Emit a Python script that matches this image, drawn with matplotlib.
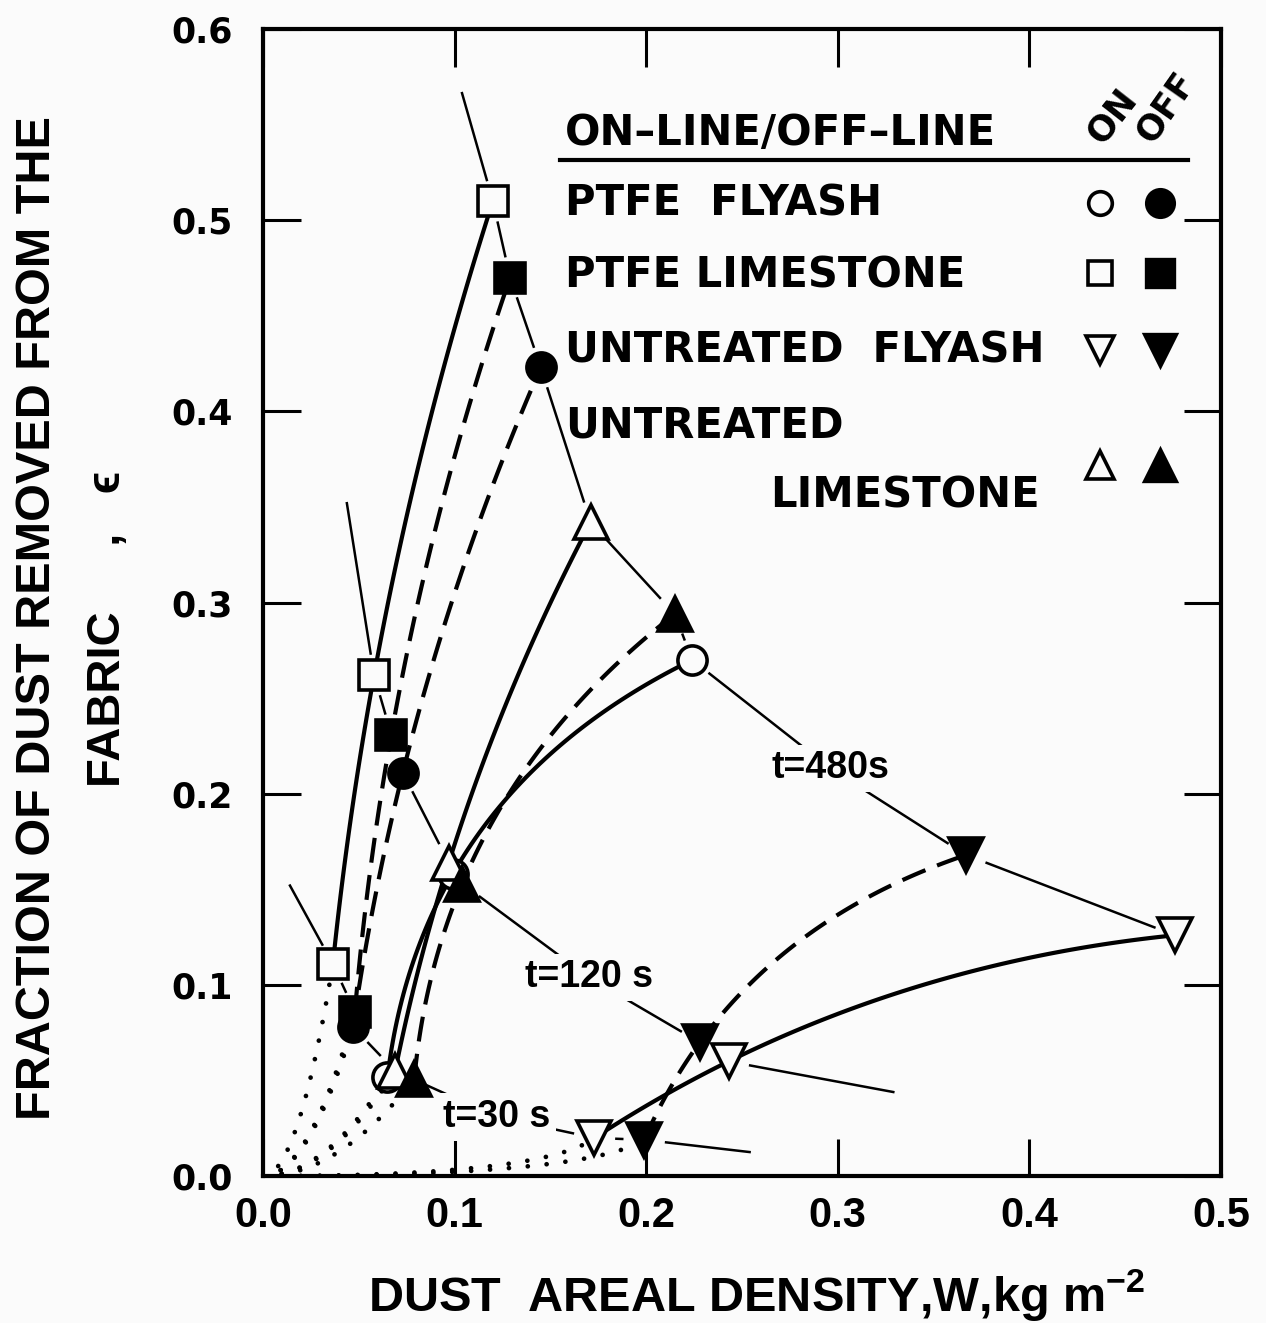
import numpy as np
import matplotlib
matplotlib.use('Agg')
import matplotlib.pyplot as plt

# filtration time of each point along a curve (s)
times = [30, 120, 480]

# dust areal density W (kg m^-2) / fraction of dust removed eps
w_ptfe_flyash_on = [0.065, 0.099, 0.224]
eps_ptfe_flyash_on = [0.052, 0.158, 0.270]
w_ptfe_flyash_off = [0.047, 0.073, 0.145]
eps_ptfe_flyash_off = [0.078, 0.211, 0.423]

w_ptfe_lime_on = [0.0365, 0.058, 0.120]
eps_ptfe_lime_on = [0.111, 0.262, 0.510]
w_ptfe_lime_off = [0.048, 0.067, 0.129]
eps_ptfe_lime_off = [0.086, 0.231, 0.470]

w_untr_flyash_on = [0.173, 0.243, 0.476]
eps_untr_flyash_on = [0.020, 0.060, 0.126]
w_untr_flyash_off = [0.199, 0.228, 0.367]
eps_untr_flyash_off = [0.019, 0.070, 0.168]

w_untr_lime_on = [0.069, 0.097, 0.171]
eps_untr_lime_on = [0.055, 0.164, 0.342]
w_untr_lime_off = [0.079, 0.104, 0.215]
eps_untr_lime_off = [0.051, 0.153, 0.294]

legend_names = ['PTFE  FLYASH', 'PTFE LIMESTONE', 'UNTREATED  FLYASH', 'UNTREATED']
xticks = [0.0, 0.1, 0.2, 0.3, 0.4, 0.5]
yticks = [0.0, 0.1, 0.2, 0.3, 0.4, 0.5, 0.6]

series = {
    ('PTFE FLYASH', 'on'): (w_ptfe_flyash_on, eps_ptfe_flyash_on),
    ('PTFE FLYASH', 'off'): (w_ptfe_flyash_off, eps_ptfe_flyash_off),
    ('PTFE LIMESTONE', 'on'): (w_ptfe_lime_on, eps_ptfe_lime_on),
    ('PTFE LIMESTONE', 'off'): (w_ptfe_lime_off, eps_ptfe_lime_off),
    ('UNTREATED FLYASH', 'on'): (w_untr_flyash_on, eps_untr_flyash_on),
    ('UNTREATED FLYASH', 'off'): (w_untr_flyash_off, eps_untr_flyash_off),
    ('UNTREATED LIMESTONE', 'on'): (w_untr_lime_on, eps_untr_lime_on),
    ('UNTREATED LIMESTONE', 'off'): (w_untr_lime_off, eps_untr_lime_off),
}
marker_of = {'PTFE FLYASH': 'o', 'PTFE LIMESTONE': 's',
             'UNTREATED FLYASH': 'v', 'UNTREATED LIMESTONE': '^'}
size_of = {'o': 21, 's': 21, 'v': 24, '^': 24}

BG = '#fbfbfb'
BOLD = ['Liberation Sans', 'DejaVu Sans']
NARROW = ['Liberation Sans Narrow', 'Liberation Sans', 'DejaVu Sans']
plt.rcParams['mathtext.fontset'] = 'custom'
plt.rcParams['mathtext.rm'] = 'Liberation Sans:bold'
plt.rcParams['mathtext.bf'] = 'Liberation Sans:bold'

fig = plt.figure(figsize=(12.66, 13.23), dpi=100, facecolor=BG)
ax = fig.add_axes([0.2077, 0.111, 0.7567, 0.867], facecolor=BG)
ax.set_xlim(0, 0.5)
ax.set_ylim(0, 0.6)


def smooth3(xs, ys, n=80):
    # quadratic through the three measured points, chord-length parameter
    xs, ys = np.asarray(xs), np.asarray(ys)
    s = np.concatenate([[0], np.cumsum(np.hypot(np.diff(xs), np.diff(ys)))])
    t = np.linspace(0, s[-1], n)
    return np.polyval(np.polyfit(s, xs, 2), t), np.polyval(np.polyfit(s, ys, 2), t)


def lead_in(x1, y1, c, n=50):
    # dotted start from the origin, bezier hugging the W axis
    t = np.linspace(0, 1, n)
    return 2 * (1 - t) * t * c * x1 + t ** 2 * x1, t ** 2 * y1


for (name, mode), (w, eps) in series.items():
    c = 0.85 if name == 'UNTREATED FLYASH' else 0.5
    lx, ly = lead_in(w[0], eps[0], c)
    ax.plot(lx, ly, color='k', lw=3.4, linestyle=(0, (0.01, 4.0)),
            dash_capstyle='round', zorder=2)
    cx, cy = smooth3(w, eps)
    if mode == 'on':
        ax.plot(cx, cy, color='k', lw=3.0, solid_capstyle='butt', zorder=3)
    else:
        ax.plot(cx, cy, color='k', lw=3.0, linestyle=(0, (6.0, 3.0)), zorder=3)

# isochrones (t = 30, 120, 480 s): label positions and leader ends
iso_order = {
    0: [('PTFE LIMESTONE', 'on'), ('PTFE LIMESTONE', 'off'), ('PTFE FLYASH', 'off'),
        ('UNTREATED LIMESTONE', 'on'), 'label', ('UNTREATED FLYASH', 'on'),
        ('UNTREATED FLYASH', 'off')],
    1: [('PTFE LIMESTONE', 'on'), ('PTFE LIMESTONE', 'off'), ('PTFE FLYASH', 'off'),
        ('UNTREATED LIMESTONE', 'on'), ('UNTREATED LIMESTONE', 'off'), 'label',
        ('UNTREATED FLYASH', 'off'), ('UNTREATED FLYASH', 'on')],
    2: [('PTFE LIMESTONE', 'on'), ('PTFE LIMESTONE', 'off'), ('PTFE FLYASH', 'off'),
        ('UNTREATED LIMESTONE', 'on'), ('UNTREATED LIMESTONE', 'off'),
        ('PTFE FLYASH', 'on'), 'label', ('UNTREATED FLYASH', 'off'),
        ('UNTREATED FLYASH', 'on')],
}
iso_label_pos = {0: (0.122, 0.031), 1: (0.170, 0.104), 2: (0.296, 0.2134)}
iso_label_txt = {0: 't=30 s', 1: 't=120 s', 2: 't=480s'}
iso_start = {0: (0.0141, 0.152), 1: (0.0438, 0.352), 2: (0.1039, 0.5665)}
iso_end = {0: (0.254, 0.0126), 1: (0.329, 0.044), 2: None}

inv = ax.transData.inverted()


def seg(p, q, rp, rq):
    P, Q = ax.transData.transform([p, q])
    v = Q - P
    L = np.hypot(*v)
    if L <= rp + rq + 4:
        return None
    u = v / L
    return inv.transform([P + u * rp, Q - u * rq])


for k in range(3):
    pts, rad = [iso_start[k]], [0]
    for key in iso_order[k]:
        if key == 'label':
            pts.append(iso_label_pos[k])
            rad.append(0)
        else:
            w, eps = series[key]
            pts.append((w[k], eps[k]))
            rad.append(22)
    if iso_end[k] is not None:
        pts.append(iso_end[k])
        rad.append(0)
    for i in range(len(pts) - 1):
        s = seg(pts[i], pts[i + 1], rad[i], rad[i + 1])
        if s is not None:
            ax.plot(s[:, 0], s[:, 1], color='k', lw=1.8, zorder=2)
    ax.text(*iso_label_pos[k], iso_label_txt[k], ha='center', va='center',
            fontsize=27, weight='bold', family=BOLD, zorder=4,
            bbox=dict(facecolor=BG, edgecolor='none', pad=4))

# markers on top
for (name, mode), (w, eps) in series.items():
    m = marker_of[name]
    ax.plot(w, eps, linestyle='none', marker=m, ms=size_of[m],
            mfc='k' if mode == 'off' else BG, mec='k', mew=2.6, zorder=5)

# legend drawn as in the original figure
tr = ax.transAxes
ax.text(0.315, 0.899, 'ON\u2013LINE/OFF\u2013LINE', transform=tr, fontsize=30,
        weight='bold', family='DejaVu Sans', ha='left', va='baseline')
ax.plot([0.31, 0.9656], [0.886, 0.886], transform=tr, color='k', lw=3,
        clip_on=False)
ax.text(0.886, 0.924, 'ON', transform=tr, rotation=52, fontsize=25,
        weight='bold', family='DejaVu Sans', ha='center', va='center')
ax.text(0.9425, 0.932, 'OFF', transform=tr, rotation=55, fontsize=25,
        weight='bold', family='DejaVu Sans', ha='center', va='center')
row_y = [0.848, 0.787, 0.720, 0.620]
text_y = [0.848, 0.7855, 0.720, 0.6547]
for name, label, ry, ty in zip(marker_of, legend_names, row_y, text_y):
    ax.text(0.315, ty, label, transform=tr, fontsize=30, weight='bold',
            family='DejaVu Sans', ha='left', va='center')
    m = marker_of[name]
    ax.plot([0.874], [ry], transform=tr, marker=m, ms=size_of[m] - 4,
            mfc=BG, mec='k', mew=2.6, clip_on=False)
    ax.plot([0.936], [ry], transform=tr, marker=m, ms=size_of[m] - 1,
            mfc='k', mec='k', mew=2.4, clip_on=False)
ax.text(0.529, 0.5937, 'LIMESTONE', transform=tr, fontsize=30, weight='bold',
        family='DejaVu Sans', ha='left', va='center')

# axes frame and ticks
for sp in ax.spines.values():
    sp.set_linewidth(3)
ax.tick_params(direction='in', length=27, width=2.2, top=True, right=True)
ax.tick_params(axis='y', pad=22)
ax.tick_params(axis='x', pad=14)
ax.set_xticks(xticks, [f'{v:.1f}' for v in xticks], fontsize=30,
              weight='bold', family=NARROW)
ax.set_yticks(yticks, [f'{v:.1f}' for v in yticks], fontsize=25,
              weight='bold', family='DejaVu Sans')

ax.set_xlabel(r'DUST  AREAL DENSITY,W,kg m$^{-2}$', fontsize=35,
              weight='bold', family=BOLD)
ax.xaxis.set_label_coords(0.5157, -0.1046)
ax.xaxis.label.set_va('center')

fig.text(0.030, 0.533, 'FRACTION OF DUST REMOVED FROM THE', rotation=90,
         fontsize=35, weight='bold', family=BOLD, ha='center', va='center')
fig.text(0.0853, 0.525, 'FABRIC     ,   \u03f5', rotation=90,
         fontsize=34, weight='bold', family=BOLD, ha='center', va='center')

fig.savefig('out.png', dpi=100, facecolor=BG)
